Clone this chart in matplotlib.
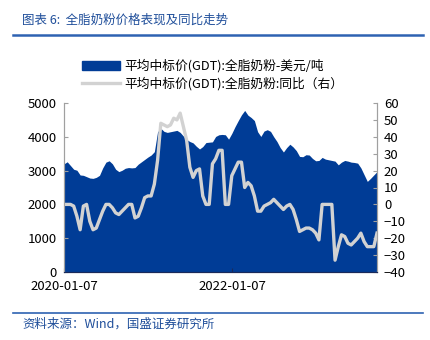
import pandas as pd
import matplotlib
matplotlib.use("Agg")
import matplotlib.pyplot as plt
import matplotlib.dates as mdates
from matplotlib.patches import Patch
from matplotlib.lines import Line2D

plt.rcParams['font.family'] = ['Noto Sans CJK SC', 'DejaVu Sans']

# GDT whole milk powder: average winning price (USD/t) and YoY (%)
dates = pd.date_range('2020-01-07', periods=98, freq='14D')
price = [3200, 3260, 3150, 3040, 3010, 2870, 2860, 2820, 2780, 2770,
         2800, 2860, 3080, 3250, 3290, 3200, 3040, 2970, 3010, 3070,
         3090, 3080, 3090, 3190, 3260, 3330, 3400, 3460, 3560, 4150,
         4250, 4160, 4130, 4150, 4170, 4190, 4130, 4020, 3920, 3860,
         3820, 3720, 3640, 3710, 3830, 3840, 3850, 4010, 4060, 4070,
         4060, 3930, 4100, 4300, 4480, 4650, 4780, 4640, 4570, 4480,
         4150, 4010, 4170, 4210, 4160, 4000, 3860, 3680, 3550, 3680,
         3780, 3700, 3590, 3420, 3410, 3470, 3460, 3360, 3290, 3300,
         3390, 3340, 3320, 3300, 3280, 3170, 3250, 3300, 3280, 3250,
         3240, 3220, 3080, 2880, 2680, 2770, 2870, 2970]
yoy = [0, 0, 0, -1, -7, -15, -1, 0, -10, -15,
       -14, -9, -4, 0, 0, -2, -5, -6, -4, -2,
       0, 0, -8, -7, -2, 4, 5, 5, 12, 26,
       48, 47, 46, 47, 51, 50, 54, 46, 38, 22,
       16, 20, 21, 5, 0, 0, 24, 27, 32, 32,
       0, 0, 17, 21, 25, 25, 10, 13, 11, 5,
       -4, -4, -1, 0, 1, 3, 1, -1, -3, -1,
       0, -3, -9, -16, -15, -14, -14, -15, -17, -21,
       0, 0, 0, 0, -33, -25, -18, -19, -23, -24,
       -22, -20, -17, -22, -25, -25, -25, -17]

xticks = ['2020-01-07', '2022-01-07']

navy = '#003C96'
grey = '#D2D2D2'

fig = plt.figure(figsize=(4.31, 3.40), dpi=100)
ax = fig.add_axes([64/431, 1-272/340, (377-64)/431, (272-103)/340])
ax2 = ax.twinx()

ax.fill_between(dates, price, 0, color=navy, linewidth=0)
ax2.plot(dates, yoy, color=grey, linewidth=2.4)

ax.set_xlim(dates[0], dates[-1])
ax.set_ylim(0, 5000)
ax.set_yticks(range(0, 5001, 1000))
ax2.set_ylim(-40, 60)
ax2.set_yticks(range(-40, 61, 10))
ax.set_xticks(pd.to_datetime(xticks))
ax.xaxis.set_major_formatter(mdates.DateFormatter('%Y-%m-%d'))

for a in (ax, ax2):
    a.spines['top'].set_visible(False)
    a.spines['left'].set_color('#A0A0A0')
    a.spines['right'].set_color('#A0A0A0')
    a.spines['bottom'].set_color('#1A2A5A')
    a.tick_params(direction='in', length=3, colors='#A0A0A0', labelcolor='black',
                  labelsize=9.5, pad=5)
ax.tick_params(axis='x', colors='#1A2A5A', labelcolor='black', pad=6)

# legend
handles = [Patch(facecolor=navy, edgecolor=navy),
           Line2D([], [], color=grey, linewidth=2.4)]
labels = ['平均中标价(GDT):全脂奶粉-美元/吨', '平均中标价(GDT):全脂奶粉:同比（右）']
fig.legend(handles, labels, loc='upper left', bbox_to_anchor=(82/431, 1-59/340),
           frameon=False, fontsize=9.2, handlelength=3.0, handletextpad=0.3,
           labelspacing=0.3, borderpad=0, borderaxespad=0)

# title, source and rules
fig.text(22/431, 1-20/340, '图表 6:  全脂奶粉价格表现及同比走势', fontsize=9,
         color='#1F4E9A', va='center', ha='left')
fig.add_artist(Line2D([13/431, 423/431], [1-35/340, 1-35/340], color='#2E62B2',
                      linewidth=1.8, transform=fig.transFigure))
fig.add_artist(Line2D([13/431, 423/431], [1-313/340, 1-313/340], color='#2E62B2',
                      linewidth=1.2, transform=fig.transFigure))
fig.text(22/431, 1-324/340, '资料来源：Wind，国盛证券研究所', fontsize=9,
         color='#1F4E9A', va='center', ha='left')

fig.savefig('out.png', dpi=100)
